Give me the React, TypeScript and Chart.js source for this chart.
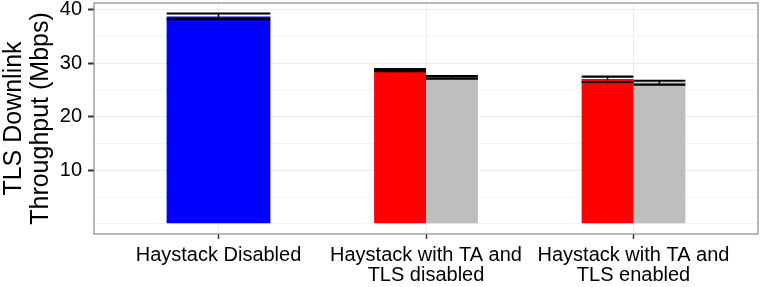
import React, { useEffect, useRef } from 'react';
import { Chart, registerables } from 'chart.js';

Chart.register(...registerables);

// ---- data ----
const categories: string[][] = [
  ['Haystack Disabled'],
  ['Haystack with TA and', 'TLS disabled'],
  ['Haystack with TA and', 'TLS enabled'],
];
const categoryPositions = [1, 2, 3];

const disabledMean = [38.73, null, null];
const disabledLow = [38.25, null, null];
const disabledHigh = [39.29, null, null];

const taMean = [null, 28.7, 27.05];
const taLow = [null, 28.5, 26.49];
const taHigh = [null, 28.88, 27.48];

const tlsMean = [null, 27.35, 26.45];
const tlsLow = [null, 27.14, 25.99];
const tlsHigh = [null, 27.58, 26.73];

const majorTicks = [10, 20, 30, 40];
const minorTicks = [0, 5, 15, 25, 35];
const yMin = -1.9;
const yMax = 41.25;
const xMin = 0.4;
const xMax = 3.6;

const yTitle = ['TLS Downlink', 'Throughput (Mbps)'];

const FONT = "'Liberation Sans', Arial, Helvetica, sans-serif";

const errorBarPlugin = {
  id: 'errorBars',
  afterDatasetsDraw(chart: any) {
    const ctx = chart.ctx;
    const yScale = chart.scales.y;
    chart.data.datasets.forEach((ds: any, i: number) => {
      const meta = chart.getDatasetMeta(i);
      meta.data.forEach((bar: any, j: number) => {
        const lo = ds.errLow[j];
        const hi = ds.errHigh[j];
        if (lo == null || hi == null) return;
        const { x, width } = bar.getProps(['x', 'width'], true);
        const yl = yScale.getPixelForValue(lo);
        const yh = yScale.getPixelForValue(hi);
        ctx.save();
        ctx.strokeStyle = '#000';
        ctx.lineWidth = 2.2;
        ctx.beginPath();
        ctx.moveTo(x - width / 2, yl);
        ctx.lineTo(x + width / 2, yl);
        ctx.moveTo(x - width / 2, yh);
        ctx.lineTo(x + width / 2, yh);
        ctx.stroke();
        ctx.lineWidth = 1.5;
        ctx.beginPath();
        ctx.moveTo(x, yl);
        ctx.lineTo(x, yh);
        ctx.stroke();
        ctx.restore();
      });
    });
  },
};

const panelBorderPlugin = {
  id: 'panelBorder',
  afterDraw(chart: any) {
    const { ctx, chartArea } = chart;
    ctx.save();
    ctx.strokeStyle = '#8a8a8a';
    ctx.lineWidth = 1.2;
    ctx.strokeRect(chartArea.left, chartArea.top, chartArea.right - chartArea.left, chartArea.bottom - chartArea.top);
    ctx.restore();
  },
};

export default function App() {
  const ref = useRef<HTMLCanvasElement | null>(null);

  useEffect(() => {
    document.body.style.margin = '0';
    if (!ref.current) return;
    const allYTicks = [...minorTicks, ...majorTicks].sort((a, b) => a - b);
    const toPoints = (vals: (number | null)[]) =>
      categoryPositions.map((x, i) => ({ x, y: vals[i] }));

    const chart = new Chart(ref.current, {
      type: 'bar',
      data: {
        datasets: [
          {
            label: 'Haystack Disabled',
            data: toPoints(disabledMean),
            backgroundColor: '#0000FF',
            errLow: disabledLow,
            errHigh: disabledHigh,
          } as any,
          {
            label: 'TA',
            data: toPoints(taMean),
            backgroundColor: '#FF0000',
            errLow: taLow,
            errHigh: taHigh,
          } as any,
          {
            label: 'TLS',
            data: toPoints(tlsMean),
            backgroundColor: '#BEBEBE',
            errLow: tlsLow,
            errHigh: tlsHigh,
          } as any,
        ],
      },
      options: {
        responsive: false,
        animation: false,
        layout: { padding: { top: 3, right: 5, left: 0, bottom: 0 } },
        plugins: { legend: { display: false }, tooltip: { enabled: false } },
        datasets: {
          bar: { categoryPercentage: 0.5, barPercentage: 1, skipNull: true, borderWidth: 0 },
        },
        scales: {
          x: {
            type: 'linear',
            min: xMin,
            max: xMax,
            offset: false,
            grid: {
              offset: false,
              color: '#EBEBEB',
              lineWidth: 1,
              tickColor: '#333333',
              tickLength: 5,
              tickWidth: 1.5,
            },
            border: { display: false },
            ticks: {
              autoSkip: false,
              maxRotation: 0,
              minRotation: 0,
              padding: 6,
              color: '#000',
              font: { family: FONT, size: 20, lineHeight: 1.0 },
              callback: (v: any) => {
                const idx = categoryPositions.indexOf(Number(v));
                return idx >= 0 ? categories[idx] : '';
              },
            },
            afterBuildTicks: (s: any) => {
              s.ticks = categoryPositions.map((v) => ({ value: v }));
            },
            afterFit: (s: any) => {
              s.height = 53;
              s.paddingLeft = 0;
              s.paddingRight = 0;
            },
          } as any,
          y: {
            type: 'linear',
            min: yMin,
            max: yMax,
            grid: {
              color: (c: any) => (majorTicks.includes(c.tick?.value) ? '#EBEBEB' : '#F4F4F4'),
              lineWidth: 1,
              tickColor: (c: any) => (majorTicks.includes(c.tick?.value) ? '#333333' : 'rgba(0,0,0,0)'),
              tickLength: 6,
              tickWidth: 2,
            },
            border: { display: false },
            ticks: {
              autoSkip: false,
              padding: 6,
              color: '#000',
              font: { family: FONT, size: 20, lineHeight: 1.0 },
              callback: (v: any) => (majorTicks.includes(Number(v)) ? String(v) : ''),
            },
            afterBuildTicks: (s: any) => {
              s.ticks = allYTicks.map((v) => ({ value: v }));
            },
            afterFit: (s: any) => {
              s.width = 94;
              s.paddingTop = 0;
              s.paddingBottom = 0;
            },
            title: {
              display: true,
              text: yTitle,
              color: '#000',
              font: { family: FONT, size: 25, lineHeight: 1.07 },
              padding: { top: 0.5, bottom: 0 },
            },
          } as any,
        },
      },
      plugins: [errorBarPlugin, panelBorderPlugin],
    } as any);

    return () => chart.destroy();
  }, []);

  return <canvas ref={ref} width={763} height={287} style={{ display: 'block', width: 763, height: 287 }} />;
}
